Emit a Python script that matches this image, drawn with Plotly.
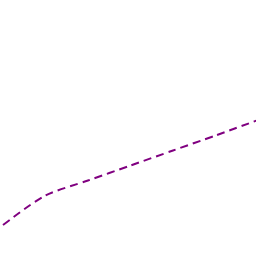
import plotly.graph_objects as go

x_vals = [0, 1, 2, 3, 4, 5, 6]
y_vals = [31, 60.5, 75.5, 90.5, 105.5, 120.5, 136]

fig = go.Figure()
fig.add_trace(go.Scatter(x=x_vals, y=y_vals, mode="lines",
                         line=dict(color="#800080", width=2, dash="8px,5px", shape="spline", smoothing=0.8)))
fig.update_layout(width=256, height=256, margin=dict(l=0, r=0, t=0, b=0),
                  paper_bgcolor="white", plot_bgcolor="white", showlegend=False)
fig.update_xaxes(visible=False, range=[-3/42.5, 253/42.5])
fig.update_yaxes(visible=False, range=[0, 256])
fig.write_html("out.html")
